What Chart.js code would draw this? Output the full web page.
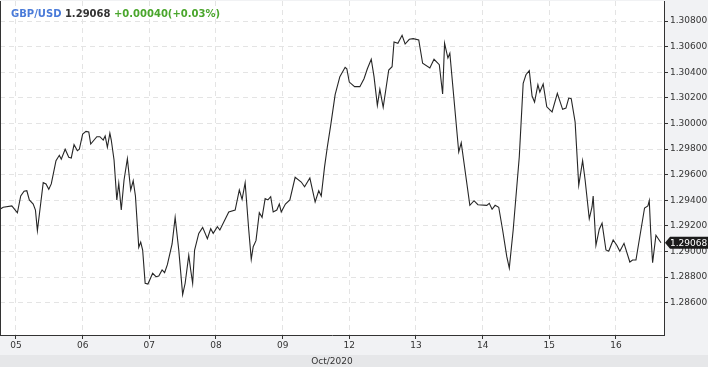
<!DOCTYPE html>
<html>
<head>
<meta charset="utf-8">
<script src="https://cdn.jsdelivr.net/npm/chart.js@4"></script>
<style>
  html, body { margin: 0; padding: 0; background: #f1f2f4; }
  canvas { display: block; }
</style>
</head>
<body>
<canvas id="fxChart" width="708" height="367"></canvas>
<script>
// trading hours counted from Oct 05 00:00 (weekend left out)
const hours = [
  -5.8, -4.6, -1.5, -0.7, 0.5, 1.7, 2.9, 3.9, 4.8, 6.2,
  7.0, 7.7, 8.9, 9.8, 10.8, 11.8, 12.7, 14.4, 15.6, 16.3,
  17.7, 19.0, 19.9, 20.9, 22.1, 22.8, 24.0, 25.2, 26.2, 26.9,
  29.1, 30.2, 31.4, 32.1, 32.9, 33.8, 34.3, 35.3, 36.3, 37.0,
  37.9, 38.9, 40.1, 41.3, 42.2, 43.0, 44.2, 44.9, 45.6, 46.5,
  47.5, 49.2, 50.4, 51.4, 52.6, 53.5, 54.5, 56.2, 57.3, 58.6,
  60.0, 60.9, 62.2, 62.9, 63.6, 64.3, 65.8, 67.2, 68.9, 70.1,
  71.0, 72.5, 73.4, 76.6, 78.9, 80.4, 81.4, 82.5, 83.8, 84.7,
  85.4, 86.4, 87.6, 88.6, 89.7, 90.7, 91.7, 92.6, 93.9, 94.8,
  95.5, 97.0, 98.6, 100.5, 102.7, 103.9, 105.8, 107.7, 109.0, 109.9,
  111.1, 112.1, 113.3, 114.9, 116.6, 118.5, 119.1, 120.0, 121.9, 123.8,
  125.3, 126.5, 127.9, 128.9, 130.1, 131.0, 132.2, 134.2, 135.4, 136.1,
  137.5, 139.0, 140.1, 141.6, 143.0, 145.0, 146.4, 149.0, 150.5, 152.4,
  153.6, 154.3, 155.5, 156.2, 159.4, 160.3, 163.4, 164.9, 166.3, 169.5,
  170.4, 171.4, 172.5, 173.8, 175.2, 176.7, 177.6, 179.0, 181.2, 182.6,
  183.6, 184.8, 185.8, 186.7, 187.9, 188.6, 189.8, 191.1, 193.0, 194.9,
  196.8, 198.0, 199.0, 199.9, 201.3, 202.6, 204.0, 204.9, 206.4, 207.4,
  207.8, 208.8, 210.0, 211.0, 212.4, 213.4, 215.0, 216.3, 217.4, 218.9,
  221.0, 222.0, 223.2, 226.3, 227.5, 228.0, 228.5, 229.2, 230.4, 232.2
];
const prices = [
  1.29329, 1.29345, 1.29355, 1.29334, 1.29302, 1.29433, 1.29470, 1.29474, 1.29402, 1.29370,
  1.29323, 1.29162, 1.29376, 1.29537, 1.29527, 1.29485, 1.29527, 1.29709, 1.29751, 1.29720,
  1.29798, 1.29735, 1.29730, 1.29834, 1.29787, 1.29798, 1.29917, 1.29938, 1.29933, 1.29839,
  1.29896, 1.29896, 1.29870, 1.29902, 1.29813, 1.29923, 1.29870, 1.29714, 1.29402, 1.29532,
  1.29323, 1.29558, 1.29724, 1.29480, 1.29552, 1.29433, 1.29032, 1.29073, 1.29011, 1.28751,
  1.28745, 1.28829, 1.28802, 1.28808, 1.28855, 1.28834, 1.28896, 1.29058, 1.29266, 1.29011,
  1.28662, 1.28751, 1.28970, 1.28855, 1.28751, 1.29011, 1.29141, 1.29188, 1.29099, 1.29177,
  1.29141, 1.29193, 1.29167, 1.29308, 1.29323, 1.29480, 1.29407, 1.29537, 1.29167, 1.28938,
  1.29037, 1.29084, 1.29302, 1.29266, 1.29412, 1.29402, 1.29427, 1.29308, 1.29323, 1.29370,
  1.29308, 1.29370, 1.29402, 1.29579, 1.29542, 1.29505, 1.29573, 1.29386, 1.29474, 1.29433,
  1.29662, 1.29818, 1.29985, 1.30224, 1.30365, 1.30438, 1.30427, 1.30323, 1.30287, 1.30287,
  1.30349, 1.30427, 1.30501, 1.30365, 1.30141, 1.30266, 1.30126, 1.30417, 1.30443, 1.30636,
  1.30626, 1.30688, 1.30620, 1.30657, 1.30662, 1.30652, 1.30470, 1.30433, 1.30501, 1.30459,
  1.30230, 1.30626, 1.30511, 1.30548, 1.29777, 1.29849, 1.29360, 1.29396, 1.29365, 1.29360,
  1.29376, 1.29329, 1.29360, 1.29345, 1.29167, 1.28959, 1.28870, 1.29167, 1.29740, 1.30313,
  1.30380, 1.30412, 1.30214, 1.30167, 1.30302, 1.30245, 1.30308, 1.30130, 1.30089, 1.30235,
  1.30110, 1.30120, 1.30198, 1.30193, 1.30011, 1.29516, 1.29709, 1.29558, 1.29255, 1.29349,
  1.29433, 1.29048, 1.29173, 1.29220, 1.29011, 1.29001, 1.29089, 1.29048, 1.29001, 1.29063,
  1.28917, 1.28933, 1.28933, 1.29339, 1.29355, 1.29396, 1.29157, 1.28912, 1.29126, 1.29068
];

const dayTicks = [0, 24, 48, 72, 96, 120, 144, 168, 192, 216];
const dayLabels = ["05", "06", "07", "08", "09", "12", "13", "14", "15", "16"];
const priceTicks = [1.286, 1.288, 1.290, 1.292, 1.294, 1.296, 1.298, 1.300, 1.302, 1.304, 1.306, 1.308];

const symbol = "GBP/USD";
const lastPrice = "1.29068";
const change = "+0.00040(+0.03%)";
const monthLabel = "Oct/2020";

const tickFont = { family: "DejaVu Sans", size: 9 };

// no extra room for half labels at the axis ends
function noEndPadding(s) {
  s.paddingTop = 0;
  s.paddingBottom = 0;
  s.paddingLeft = 0;
  s.paddingRight = 0;
}

const panelPlugin = {
  id: "panel",
  beforeDraw(chart) {
    const { ctx, chartArea: a, width, height } = chart;
    ctx.save();
    ctx.fillStyle = "#f1f2f4";
    ctx.fillRect(0, 0, width, height);
    ctx.fillStyle = "#e6e7e9";
    ctx.fillRect(0, 355, width, height - 355);
    ctx.fillStyle = "#ffffff";
    ctx.fillRect(a.left, a.top, a.right - a.left, a.bottom - a.top);
    ctx.restore();
  },
  afterDraw(chart) {
    const { ctx, chartArea: a } = chart;
    ctx.save();
    // left edge of the plot
    ctx.strokeStyle = "#333";
    ctx.lineWidth = 1;
    ctx.beginPath();
    ctx.moveTo(a.left + 0.5, a.top);
    ctx.lineTo(a.left + 0.5, a.bottom);
    ctx.stroke();

    // header
    ctx.font = "bold 10px 'DejaVu Sans'";
    ctx.textBaseline = "alphabetic";
    let x = 11;
    const y = 16.5;
    const gap = ctx.measureText(" ").width;
    ctx.fillStyle = "#4a7bd9";
    ctx.fillText(symbol, x, y);
    x += ctx.measureText(symbol).width + gap;
    ctx.fillStyle = "#333";
    ctx.fillText(lastPrice, x, y);
    x += ctx.measureText(lastPrice).width + gap;
    ctx.fillStyle = "#4aa62c";
    ctx.fillText(change, x, y);

    // last price tag
    const yy = chart.scales.y.getPixelForValue(prices[prices.length - 1]);
    ctx.fillStyle = "#1b1b1b";
    ctx.beginPath();
    ctx.moveTo(665, yy);
    ctx.lineTo(670, yy - 6);
    ctx.lineTo(708, yy - 6);
    ctx.lineTo(708, yy + 6);
    ctx.lineTo(670, yy + 6);
    ctx.closePath();
    ctx.fill();
    ctx.fillStyle = "#fff";
    ctx.font = "9px 'DejaVu Sans'";
    ctx.textBaseline = "middle";
    ctx.fillText(lastPrice, 670, yy + 0.5);
    ctx.restore();
  }
};

const ctx = document.getElementById("fxChart").getContext("2d");
new Chart(ctx, {
  type: "line",
  data: {
    datasets: [{
      data: hours.map((h, i) => ({ x: h, y: prices[i] })),
      borderColor: "#262626",
      borderWidth: 1.1,
      pointRadius: 0,
      tension: 0,
      fill: false
    }]
  },
  options: {
    responsive: false,
    animation: false,
    layout: { padding: { top: 1, left: 0, right: 0, bottom: 0 } },
    plugins: { legend: { display: false }, tooltip: { enabled: false } },
    scales: {
      x: {
        type: "linear",
        min: -5.76,
        max: 233.3,
        afterBuildTicks: s => { s.ticks = dayTicks.map(v => ({ value: v })); },
        afterFit: s => { s.height = 32; noEndPadding(s); },
        ticks: {
          autoSkip: false,
          maxRotation: 0,
          padding: 1,
          color: "#333",
          font: tickFont,
          callback: (v, i) => dayLabels[i]
        },
        grid: { color: "#e4e4e4", tickColor: "#333", tickLength: 4 },
        border: { display: true, color: "#333", dash: [5, 4] },
        title: {
          display: true,
          text: monthLabel,
          color: "#333",
          font: tickFont,
          padding: { top: 0, bottom: 0 }
        }
      },
      y: {
        position: "right",
        min: 1.283469,
        max: 1.309563,
        afterBuildTicks: s => { s.ticks = priceTicks.map(v => ({ value: v })); },
        afterFit: s => { s.width = 44; noEndPadding(s); },
        ticks: {
          padding: 2,
          color: "#333",
          font: tickFont,
          callback: v => v.toFixed(5)
        },
        grid: { color: "#e4e4e4", tickColor: "#333", tickLength: 4 },
        border: { display: true, color: "#333", dash: [5, 4] }
      }
    }
  },
  plugins: [panelPlugin]
});
</script>
</body>
</html>
